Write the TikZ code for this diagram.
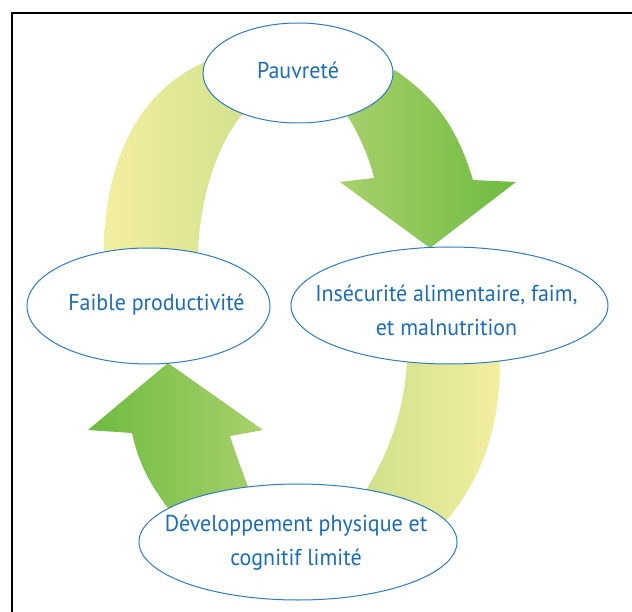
\documentclass[tikz,border=0pt]{standalone}
\usepackage{fontspec}
\setmainfont{PT Sans}[FakeStretch=0.955]
\usetikzlibrary{shapes.geometric}

\definecolor{txtblue}{HTML}{1C6DB6}
\definecolor{lineblue}{HTML}{2E7BC1}
\definecolor{paleyellow}{HTML}{F3EFA0}
\definecolor{palegreen}{HTML}{CFE08A}
\definecolor{leafgreen}{HTML}{6DBB40}
\definecolor{lightleaf}{HTML}{A9D06C}

\begin{document}
\begin{tikzpicture}[x=1pt, y=-1pt,
  stage/.style={ellipse, draw=lineblue, line width=1pt, fill=white,
    inner sep=0pt},
  stagetext/.style={inner sep=0pt, text=txtblue, align=center,
    font=\fontsize{23}{34}\selectfont},
  paleband/.style={left color=paleyellow, right color=palegreen},
  paleband2/.style={left color=palegreen, right color=paleyellow},
  greenband/.style={left color=lightleaf, right color=leafgreen},
  greenband2/.style={left color=leafgreen, right color=lightleaf},
]
\useasboundingbox (0,0) rectangle (632,612);
\fill[white] (0,0) rectangle (632,612);

% outer frame, running past the right and lower edges of the page
\draw[line width=1.7pt] (11.8,12.8) rectangle (660,640);

% the four curved arrows of the cycle (drawn first, ellipses cover their ends)
% Faible productivite -> Pauvrete (pale band, no head)
\shade[paleband] (104,268) -- (104,252)
  .. controls (104,160) and (140,90) .. (205,62)
  -- (260,100) -- (240,117)
  .. controls (215,150) and (200,200) .. (198,252)
  -- (198,268) -- cycle;

% Pauvrete -> Insecurite (green arrow)
\shade[greenband] (345,112)
  .. controls (360,135) and (370,160) .. (374,178)
  -- (340,182) -- (430,248) -- (516,182) -- (473,180)
  .. controls (455,120) and (430,95) .. (395,70)
  -- (370,85) -- cycle;

% Insecurite -> Developpement (pale band, no head)
\shade[paleband2] (410,350) -- (407,363)
  .. controls (403,420) and (385,460) .. (360,500)
  -- (430,535) -- (447,520)
  .. controls (480,480) and (500,430) .. (500,363)
  -- (502,350) -- cycle;

% Developpement -> Faible productivite (green arrow pointing up)
\shade[greenband2] (168,363) -- (263,430) -- (230,436)
  .. controls (236,455) and (242,470) .. (250,492)
  -- (185,520) -- (167,507)
  .. controls (155,490) and (140,470) .. (132,433)
  -- (88,430) -- cycle;

% the four stages: fixed-size ellipses ...
\node[stage, minimum width=190pt, minimum height=100pt] (pov) at (298,73) {};
\node[stage, minimum width=243pt, minimum height=116pt] (prod) at (148.5,306) {};
\node[stage, minimum width=317pt, minimum height=117pt] (food) at (449.5,305.5) {};
\node[stage, minimum width=318pt, minimum height=116pt] (dev) at (298,542) {};

% ... and their labels
\node[stagetext, yshift=3pt] (pov-t) at (pov) {Pauvreté};
\node[stagetext, xshift=8pt, yshift=1pt] (prod-t) at (prod) {Faible productivité};
\node[stagetext, xshift=-3pt, yshift=-5pt] (food-t) at (food) {Insécurité alimentaire, faim,\\et malnutrition};
\node[stagetext, xshift=-2pt, yshift=-1pt] (dev-t) at (dev) {Développement physique et\\cognitif limité};
\end{tikzpicture}
\end{document}
